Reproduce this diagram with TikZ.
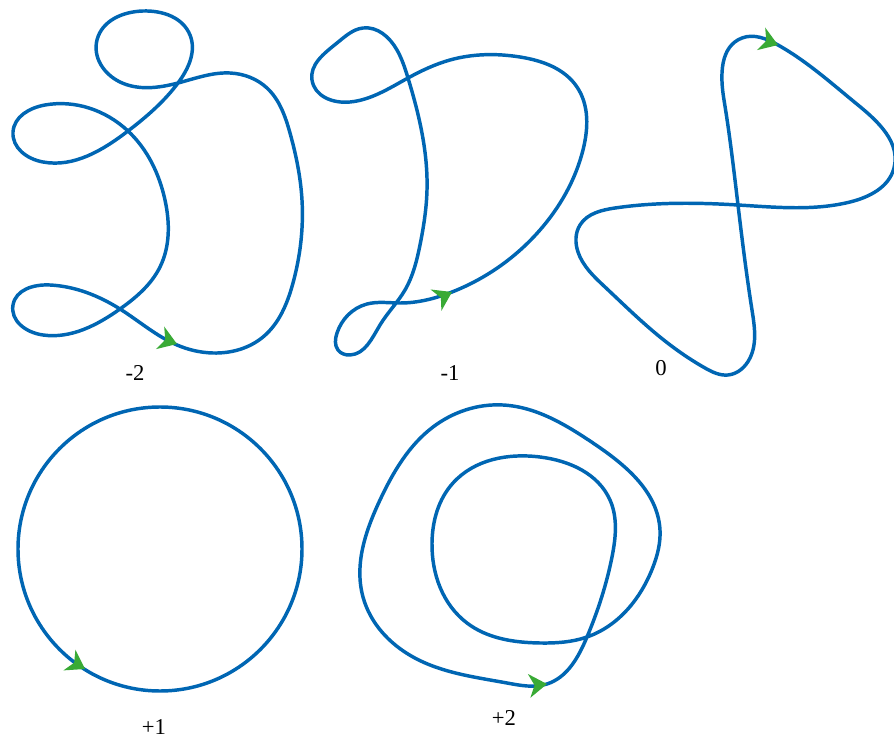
\documentclass[tikz,border=0pt]{standalone}
\usepackage{fontspec}
\setmainfont{Liberation Serif}
\usetikzlibrary{hobby}
\definecolor{curveblue}{RGB}{0,102,179}
\definecolor{arrowgreen}{RGB}{57,170,53}
\begin{document}
\begin{tikzpicture}[x=0.75pt,y=-0.75pt,
  curve/.style={draw=curveblue,line width=2.6pt,line join=round},
  lbl/.style={inner sep=0pt,font=\fontsize{17}{20}\selectfont},
  tipmark/.style={fill=arrowgreen}]
\useasboundingbox (0,0) rectangle (894,738);
\clip (0,0) rectangle (894,738);
% winding -2
\draw[curve] plot[closed hobby] coordinates {
 (177,345) (213,353) (263,337) (293,283) (302,200) (290,133) (267,88) (230,73)
 (178,83) (120,82) (97,40) (143,11) (190,35)
 (178,83) (128,131) (43,162) (13,132) (45,105)
 (128,131) (165,200) (160,267) (120,309)
 (43,335) (13,305) (50,285) (120,309)};
% winding -1
\draw[curve] plot[closed hobby] coordinates {
 (452,292) (540,230) (583,150) (577,87) (520,57)
 (450,60) (408,78) (350,102) (312,80) (337,43)
 (363,28) (397,50) (408,78) (427,190) (420,245) (405,290)
 (380,325) (350,355) (338,350) (337,333) (348,315) (367,304) (400,303)};
% winding 0
\draw[curve] plot[closed hobby] coordinates {
 (742,38) (778,45) (858,105) (894,168) (850,202)
 (738,205) (615,208) (580,225) (578,252) (605,287) (660,337) (705,368)
 (728,375) (750,358) (752,310) (738,205) (724,100)};
% winding +1
\draw[curve] (160,549) circle[radius=142];
% winding +2
\draw[curve] plot[closed hobby] coordinates {
 (547,684) (587,637) (612,557) (610,500) (540,457)
 (453,483) (432,543) (467,623) (540,643) (587,637)
 (653,567) (660,530) (593,443) (503,405)
 (433,427) (380,500) (363,597) (413,657) (507,683)};
% arrowheads
\foreach \px/\py/\ang in {177/344/-20, 452/292/27, 778/45/-20, 85/669/-30, 547/684/6}{
  \fill[tipmark,shift={(\px,\py)},rotate=\ang] (0,0) -- (-18,12) -- (-12.5,0) -- (-18,-12) -- cycle;
}
% labels
\node[lbl] (l1) at (135,373) {-2};
\node[lbl] (l2) at (450,373) {-1};
\node[lbl] (l3) at (661,368) {0};
\node[lbl] (l4) at (154,727) {+1};
\node[lbl] (l5) at (504,718) {+2};
\end{tikzpicture}
\end{document}
